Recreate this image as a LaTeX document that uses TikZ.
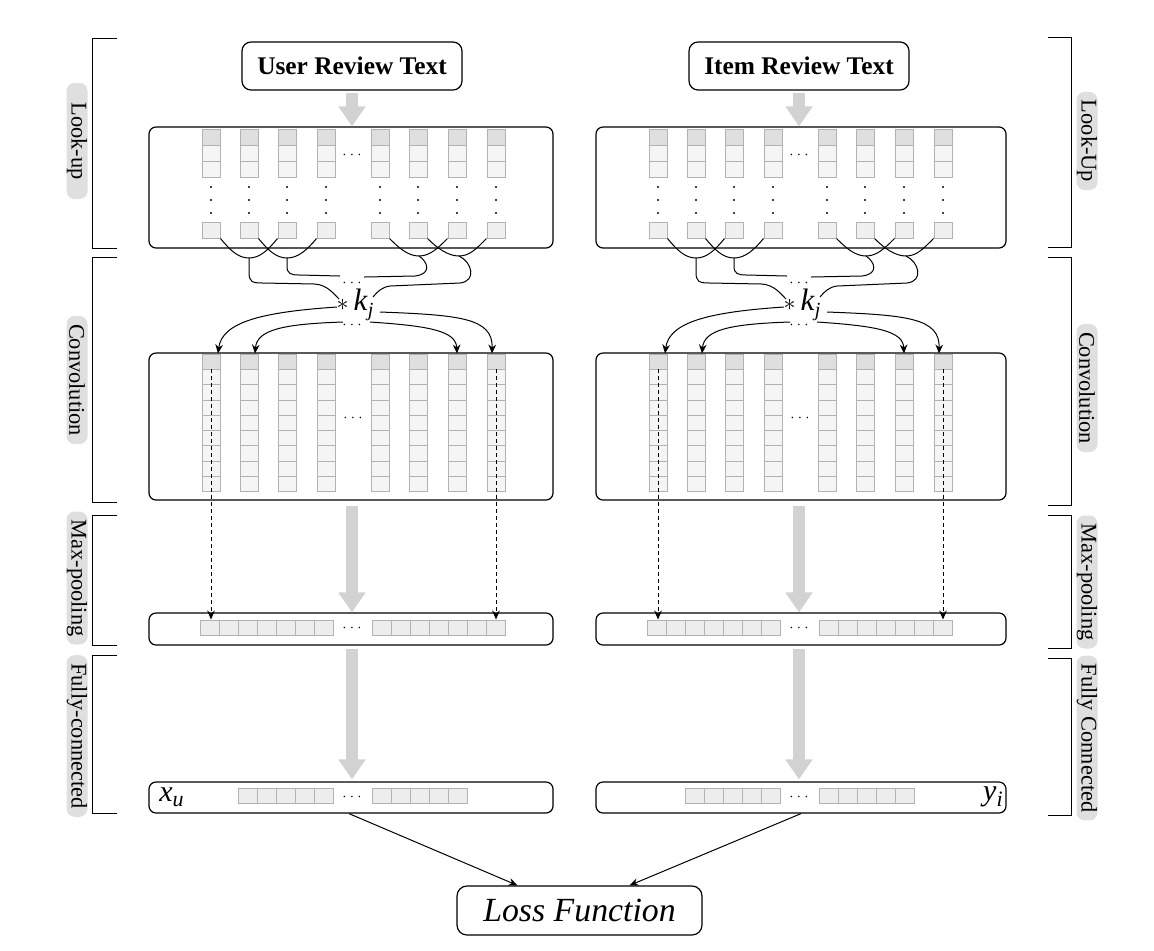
\documentclass[tikz,border=0pt]{standalone}
\usepackage{fontspec}
\setmainfont{Liberation Serif}
\usetikzlibrary{arrows.meta,calc}
\begin{document}
\begin{tikzpicture}[x=0.5pt,y=-0.5pt,
  box/.style={draw=black,line width=0.6pt,rounded corners=3.5pt,inner sep=0pt},
  titlebox/.style={draw=black,line width=0.6pt,rounded corners=4.5pt,inner sep=0pt,
    minimum width=110pt,minimum height=24pt,font=\fontsize{12.7}{15}\selectfont\bfseries},
  cell/.style={draw=gray!60,fill=gray!8,line width=0.5pt,inner sep=0pt,minimum width=9pt},
  topcell/.style={cell,fill=gray!25},
  grayarrow/.style={draw=gray!35,line width=6pt,-{Triangle[width=13pt,length=10pt]}},
  wire/.style={line width=0.5pt},
  kar/.style={line width=0.5pt,-{Stealth[length=4.5pt,width=3.8pt]}},
  dar/.style={line width=0.5pt,dash pattern=on 2pt off 1.5pt,-{Stealth[length=4.5pt,width=3.8pt]}},
  sidelab/.style={fill=gray!25,rounded corners=4pt,rotate=-90,inner ysep=0pt,inner xsep=4pt,
    minimum height=10.5pt,font=\fontsize{11.2}{13}\selectfont},
  bracket/.style={line width=0.5pt},
  dotsl/.style={font=\fontsize{7}{7}\selectfont,inner sep=0pt},
  lossbox/.style={draw=black,line width=0.6pt,rounded corners=5pt,inner sep=0pt,
    minimum width=122.5pt,minimum height=24.5pt,font=\fontsize{16.9}{20}\selectfont\itshape},
]
\useasboundingbox (0,0) rectangle (1154,950);

% ---------- side brackets and labels ----------
\draw[bracket] (117,38) -- (92,38) -- (92,248) -- (117,248);
\draw[bracket] (117,257) -- (92,257) -- (92,502) -- (117,502);
\draw[bracket] (117,515) -- (92,515) -- (92,645) -- (117,645);
\draw[bracket] (117,655) -- (92,655) -- (92,813) -- (117,813);
\node[sidelab,minimum width=58pt] (labLlook) at (77,141) {Look-up};
\node[sidelab] (labLconv) at (77,380) {Convolution};
\node[sidelab] (labLpool) at (77,578) {Max-pooling};
\node[sidelab] (labLfc) at (77,736) {Fully-connected};

\draw[bracket] (1048,37) -- (1071,37) -- (1071,247) -- (1048,247);
\draw[bracket] (1048,257) -- (1071,257) -- (1071,505) -- (1048,505);
\draw[bracket] (1048,515) -- (1071,515) -- (1071,648) -- (1048,648);
\draw[bracket] (1048,658) -- (1071,658) -- (1071,815) -- (1048,815);
\node[sidelab,minimum width=46pt] (labRlook) at (1087,141) {Look-Up};
\node[sidelab] (labRconv) at (1087,388) {Convolution};
\node[sidelab] (labRpool) at (1087,582) {Max-pooling};
\node[sidelab] (labRfc) at (1087,738) {Fully Connected};

% ---------- two towers ----------
\foreach \s/\o/\bc/\bw/\ttl in {L/0/351/202/User Review Text,R/447/801/205/Item Review Text}{
  % title and boxes
  \node[titlebox] (\s-title) at (352+\o,66) {\ttl};
  \node[box,minimum width=\bw pt,minimum height=60.5pt] (\s-look) at (\bc,187.5) {};
  \node[box,minimum width=\bw pt,minimum height=73.5pt] (\s-conv) at (\bc,426.5) {};
  \node[box,minimum width=\bw pt,minimum height=16pt] (\s-pool) at (\bc,629) {};
  \node[box,minimum width=\bw pt,minimum height=15.5pt] (\s-fc) at (\bc,797.5) {};

  % columns
  \foreach \i/\x in {1/211,2/249,3/287,4/326,5/380,6/418,7/457,8/496}{
    \node[topcell,minimum height=7.83pt] (\s-lt-\i-1) at (\x+\o,137.8) {};
    \node[cell,minimum height=7.83pt] (\s-lt-\i-2) at (\x+\o,153.5) {};
    \node[cell,minimum height=7.83pt] (\s-lt-\i-3) at (\x+\o,169.2) {};
    \foreach \yy in {187,200,213} \fill (\x+\o,\yy) circle (0.55pt);
    \node[cell,fill=gray!12,minimum height=8pt] (\s-lb-\i) at (\x+\o,230) {};
    \node[topcell,minimum height=7.67pt] (\s-cv-\i-1) at (\x+\o,361.7) {};
    \foreach \j in {2,...,9}
      \node[cell,minimum height=7.67pt] (\s-cv-\i-\j) at (\x+\o,{354+(\j-0.5)*15.33}) {};
  }
  \node[dotsl] (\s-d1) at (352+\o,155) {$\cdots$};
  \node[dotsl] (\s-d3) at (353+\o,418) {$\cdots$};

  % pooled and fully connected cells
  \foreach \k in {1,...,7}{
    \node[cell,fill=gray!14,minimum width=9.5pt,minimum height=7.5pt] (\s-pl-\k) at ({209.5+19*(\k-1)+\o},627.5) {};
    \node[cell,fill=gray!14,minimum width=9.5pt,minimum height=7.5pt] (\s-pr-\k) at ({381.5+19*(\k-1)+\o},627.5) {};
  }
  \node[dotsl] (\s-d4) at (352+\o,628) {$\cdots$};
  \foreach \k in {1,...,5}{
    \node[cell,fill=gray!14,minimum width=9.5pt,minimum height=7.5pt] (\s-fl-\k) at ({247.5+19*(\k-1)+\o},795.5) {};
    \node[cell,fill=gray!14,minimum width=9.5pt,minimum height=7.5pt] (\s-fr-\k) at ({381.5+19*(\k-1)+\o},795.5) {};
  }
  \node[dotsl] (\s-d5) at (352+\o,797) {$\cdots$};

  % convolution kernel
  \node[inner sep=0pt,font=\fontsize{15.5}{15.5}\selectfont] (\s-kj) at (355+\o,305)
    {{\fontsize{12}{12}\selectfont$\ast$}\,\textit{k}\raisebox{-0.45ex}{\fontsize{10}{10}\selectfont\textit{j}}};
  \node[dotsl] (\s-d2a) at (352+\o,283) {$\cdots$};
  \node[dotsl] (\s-d2b) at (352+\o,325) {$\cdots$};
  \coordinate (\s-mA) at (249+\o,258);
  \coordinate (\s-mB) at (287+\o,258);
  \coordinate (\s-mC) at (419+\o,256);
  \coordinate (\s-mD) at (459+\o,256);
  \coordinate (\s-kjNW) at (339+\o,299);
  \coordinate (\s-kjNE) at (373+\o,297);
  \coordinate (\s-eB) at (340+\o,276);
  \coordinate (\s-eC) at (364+\o,277);

  \draw[wire] (\s-lb-1.south east) .. controls (230+\o,250) and (238+\o,258) .. (\s-mA);
  \draw[wire] (\s-lb-3.south west) .. controls (268+\o,250) and (260+\o,258) .. (\s-mA);
  \draw[wire] (\s-lb-2.south east) .. controls (268+\o,250) and (276+\o,258) .. (\s-mB);
  \draw[wire] (\s-lb-4.south west) .. controls (307+\o,250) and (298+\o,258) .. (\s-mB);
  \draw[wire] (\s-lb-5.south east) .. controls (399+\o,248) and (408+\o,256) .. (\s-mC);
  \draw[wire] (\s-lb-7.south west) .. controls (438+\o,248) and (430+\o,256) .. (\s-mC);
  \draw[wire] (\s-lb-6.south east) .. controls (437+\o,248) and (448+\o,256) .. (\s-mD);
  \draw[wire] (\s-lb-8.south west) .. controls (477+\o,248) and (470+\o,256) .. (\s-mD);

  \draw[wire] (\s-mA) -- (249+\o,272) .. controls (249+\o,282) and (252+\o,283) .. (263+\o,283)
     -- (315+\o,284) .. controls (327+\o,285) and (333+\o,293) .. (\s-kjNW);
  \draw[wire] (\s-mB) -- (287+\o,266) .. controls (287+\o,274) and (291+\o,275) .. (300+\o,275) -- (\s-eB);
  \draw[wire] (\s-mC) .. controls (428+\o,262) and (432+\o,274) .. (415+\o,276) -- (\s-eC);
  \draw[wire] (\s-mD) .. controls (472+\o,262) and (477+\o,281) .. (460+\o,283)
     -- (390+\o,286) .. controls (382+\o,287) and (377+\o,292) .. (\s-kjNE);

  \draw[kar] ($(\s-kj)+(-18,2)$) .. controls (262+\o,312) and (222+\o,322) .. ([xshift=3.5pt]\s-cv-1-1.north);
  \draw[kar] ($(\s-kj)+(-12,17)$) .. controls (282+\o,324) and (257+\o,330) .. ([xshift=3pt]\s-cv-2-1.north);
  \draw[kar] ($(\s-kj)+(15,17)$) .. controls (430+\o,326) and (456+\o,331) .. (\s-cv-7-1.north);
  \draw[kar] ($(\s-kj)+(25,7)$) .. controls (460+\o,315) and (493+\o,318) .. ([xshift=-2pt]\s-cv-8-1.north);

  % dashed max-pooling arrows
  \draw[dar] (\s-cv-1-2.north) -- (\s-cv-1-2.north |- \s-pl-1.north);
  \draw[dar] (\s-cv-8-2.north) -- (\s-cv-8-2.north |- \s-pr-7.north);

  % thick gray flow arrows
  \draw[grayarrow] ([yshift=-1pt]\s-title.south) -- (\s-title.south |- \s-look.north);
  \draw[grayarrow] ([yshift=-2.5pt]\s-title.south |- \s-conv.south) -- (\s-title.south |- \s-pool.north);
  \draw[grayarrow] ([yshift=-1.5pt]\s-title.south |- \s-pool.south) -- ([yshift=1pt]\s-title.south |- \s-fc.north);
}

\node[anchor=west,inner sep=0pt,font=\fontsize{15}{15}\selectfont] (xu) at (159,797)
  {\textit{x}\raisebox{-0.4ex}{\fontsize{11}{11}\selectfont\textit{u}}};
\node[anchor=east,inner sep=0pt,font=\fontsize{15}{15}\selectfont] (yi) at (1003,797)
  {\textit{y}\raisebox{-0.4ex}{\fontsize{11}{11}\selectfont\textit{i}}};

% loss
\node[lossbox] (loss) at (579.5,910.5) {Loss Function};
\draw[kar] ([xshift=-1pt]L-fc.south) -- ([xshift=-31pt]loss.north);
\draw[kar] (R-fc.south) -- ([xshift=25pt]loss.north);
\end{tikzpicture}
\end{document}
